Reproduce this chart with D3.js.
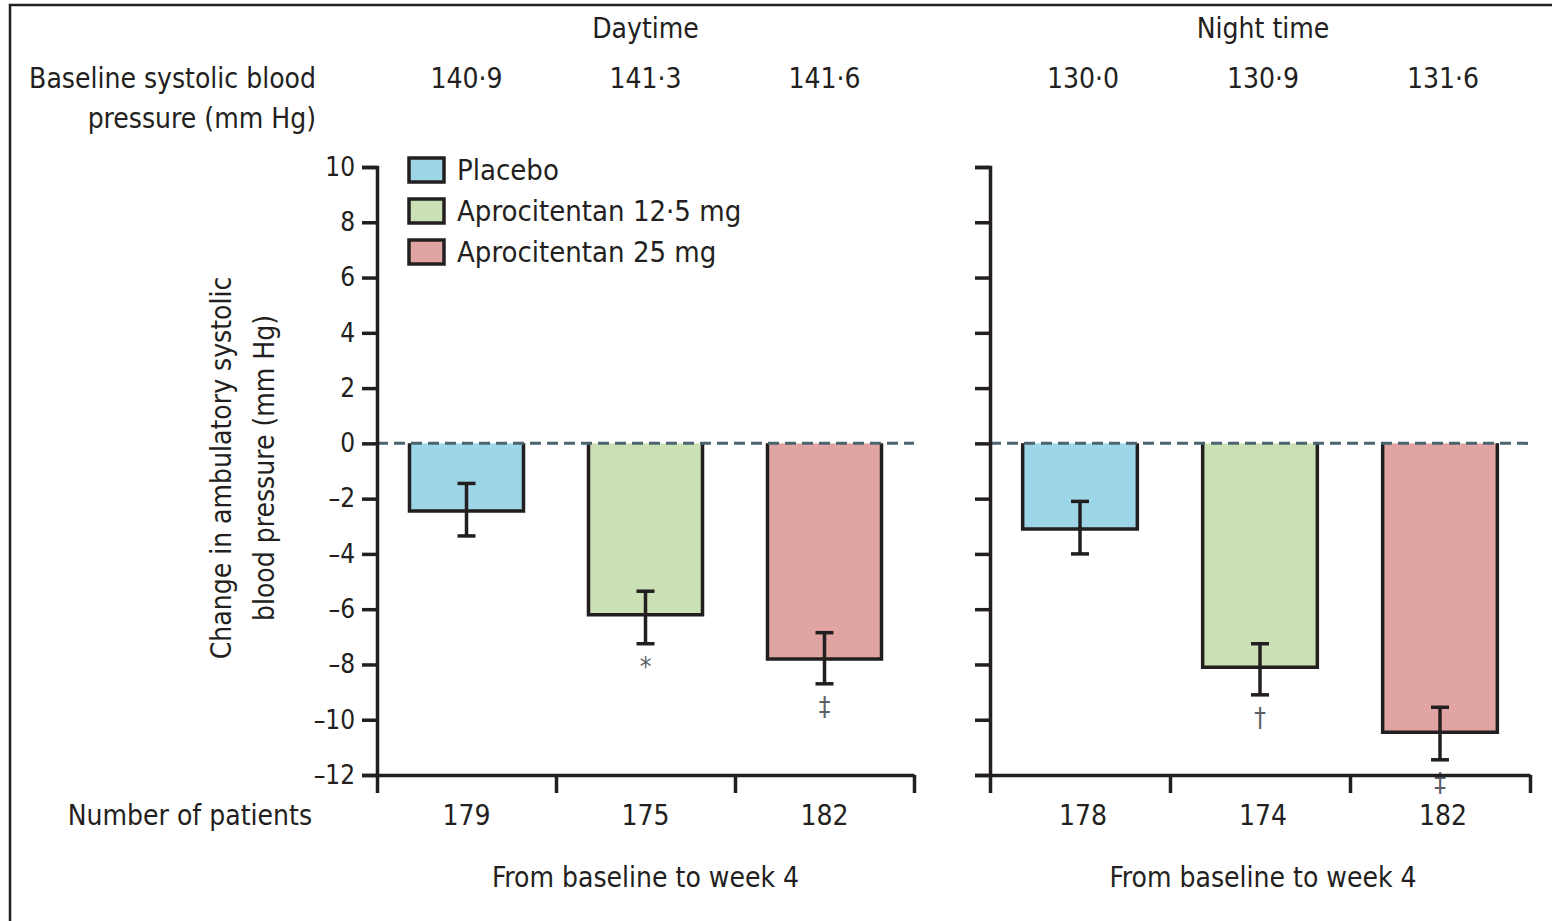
<!DOCTYPE html>
<html>
<head>
<meta charset="utf-8">
<script src="https://cdn.jsdelivr.net/npm/d3@7/dist/d3.min.js"></script>
<style>
  body { margin: 0; background: #fff; }
  svg text { font-family: "Liberation Sans Narrow", "Arial Narrow", "DejaVu Sans Condensed", sans-serif; fill: #231f20; }
</style>
</head>
<body>
<svg id="chart" width="1552" height="921"></svg>
<script>
// data
const groups = ['Placebo', 'Aprocitentan 12·5 mg', 'Aprocitentan 25 mg'];
const periods = ['Daytime', 'Night time'];
const baselineDay = ['140·9', '141·3', '141·6'];
const baselineNight = ['130·0', '130·9', '131·6'];
const changeDay = [-2.45, -6.2, -7.8];
const changeNight = [-3.1, -8.1, -10.45];
const errHighDay = [-1.45, -5.35, -6.85];
const errLowDay = [-3.35, -7.25, -8.7];
const errHighNight = [-2.1, -7.25, -9.55];
const errLowNight = [-4.0, -9.1, -11.45];
const patientsDay = [179, 175, 182];
const patientsNight = [178, 174, 182];
const markersDay = ['', '*', '‡'];
const markersNight = ['', '†', '‡'];
const yTicks = [10, 8, 6, 4, 2, 0, -2, -4, -6, -8, -10, -12];
const colors = ['#9dd6e7', '#cbe0b5', '#e0a5a2'];

const ink = '#231f20';
const svg = d3.select('#chart');

// outer frame
svg.append('path')
  .attr('d', 'M10,921 V5 H1552')
  .attr('fill', 'none')
  .attr('stroke', ink)
  .attr('stroke-width', 2.5);

const y = d3.scaleLinear().domain([-12, 10]).range([775, 167]);
const color = d3.scaleOrdinal().domain(groups).range(colors);
const fmt = d => d < 0 ? '\u2013' + Math.abs(d) : String(d);

const panels = [
  {name: periods[0], range: [377, 914], base: baselineDay, change: changeDay, hi: errHighDay, lo: errLowDay, n: patientsDay, marks: markersDay, labels: true, shift: 0},
  {name: periods[1], range: [990, 1530], base: baselineNight, change: changeNight, hi: errHighNight, lo: errLowNight, n: patientsNight, marks: markersNight, labels: false, shift: 3}
];

panels.forEach(p => {
  const x = d3.scaleBand().domain(groups).range(p.range).paddingInner(0.363).paddingOuter(0.1815);
  const xb = d3.scaleLinear().domain([0, 3]).range(p.range);
  const mid = (p.range[0] + p.range[1]) / 2;
  const g = svg.append('g');

  const rows = groups.map((k, i) => ({k: k, v: p.change[i], hi: p.hi[i], lo: p.lo[i], n: p.n[i], b: p.base[i], m: p.marks[i]}));

  // bars: fill, then three sides (top edge sits on the dashed zero line)
  g.selectAll('rect.bar')
    .data(rows)
    .enter()
    .append('rect')
    .attr('class', 'bar')
    .attr('x', d => x(d.k))
    .attr('y', y(0))
    .attr('width', x.bandwidth())
    .attr('height', d => y(d.v) - y(0))
    .attr('fill', d => color(d.k));

  g.selectAll('path.edge')
    .data(rows)
    .enter()
    .append('path')
    .attr('class', 'edge')
    .attr('d', d => `M${x(d.k)},${y(0)} V${y(d.v)} H${x(d.k) + x.bandwidth()} V${y(0)}`)
    .attr('fill', 'none')
    .attr('stroke', ink)
    .attr('stroke-width', 3.5);

  // error bars
  const eb = g.selectAll('g.err')
    .data(rows)
    .enter()
    .append('g')
    .attr('class', 'err')
    .attr('transform', d => `translate(${x(d.k) + x.bandwidth() / 2},0)`);
  eb.append('line').attr('y1', d => y(d.hi)).attr('y2', d => y(d.lo));
  eb.append('line').attr('x1', -9).attr('x2', 9).attr('y1', d => y(d.hi)).attr('y2', d => y(d.hi));
  eb.append('line').attr('x1', -9).attr('x2', 9).attr('y1', d => y(d.lo)).attr('y2', d => y(d.lo));
  eb.selectAll('line').attr('stroke', ink).attr('stroke-width', 3.5);

  // significance markers
  eb.append('text')
    .attr('y', d => y(d.lo) + 32)
    .attr('text-anchor', 'middle')
    .attr('font-size', 26)
    .style('fill', '#5a5f66')
    .text(d => d.m);

  // zero line
  g.append('line')
    .attr('x1', p.range[0]).attr('x2', p.range[1])
    .attr('y1', y(0)).attr('y2', y(0))
    .attr('stroke', '#4b6570')
    .attr('stroke-width', 3)
    .attr('stroke-dasharray', '11,6');

  // y axis
  const ya = g.append('g')
    .attr('transform', `translate(${p.range[0]},0)`)
    .call(d3.axisLeft(y).tickValues(yTicks).tickSize(15).tickSizeOuter(15)
      .tickFormat(p.labels ? fmt : ''));
  ya.selectAll('path, line').attr('stroke', ink).attr('stroke-width', 3.5);
  ya.selectAll('text').attr('font-size', 26).attr('dx', '-0.15em').style('font-family', null);

  // x axis with ticks between the bars
  const xa = g.append('g')
    .attr('transform', `translate(0,${y(-12)})`)
    .call(d3.axisBottom(xb).tickValues([0, 1, 2, 3]).tickSize(18).tickSizeOuter(0).tickFormat(''));
  xa.selectAll('path, line').attr('stroke', ink).attr('stroke-width', 3.5);

  // header and baseline values
  g.append('text')
    .attr('x', mid + p.shift).attr('y', 38)
    .attr('text-anchor', 'middle')
    .attr('font-size', 28)
    .text(p.name);

  g.selectAll('text.base')
    .data(rows)
    .enter()
    .append('text')
    .attr('class', 'base')
    .attr('x', d => x(d.k) + x.bandwidth() / 2 + p.shift)
    .attr('y', 88)
    .attr('text-anchor', 'middle')
    .attr('font-size', 28)
    .text(d => d.b);

  // patient counts
  g.selectAll('text.n')
    .data(rows)
    .enter()
    .append('text')
    .attr('class', 'n')
    .attr('x', d => x(d.k) + x.bandwidth() / 2 + p.shift)
    .attr('y', 825)
    .attr('text-anchor', 'middle')
    .attr('font-size', 28)
    .text(d => d.n);

  g.append('text')
    .attr('x', mid + p.shift).attr('y', 887)
    .attr('text-anchor', 'middle')
    .attr('font-size', 28)
    .text('From baseline to week 4');
});

// row labels
const rowLab = svg.append('g').attr('font-size', 28);
rowLab.append('text').attr('x', 316).attr('y', 88).attr('text-anchor', 'end').text('Baseline systolic blood');
rowLab.append('text').attr('x', 316).attr('y', 128).attr('text-anchor', 'end').text('pressure (mm Hg)');
rowLab.append('text').attr('x', 312).attr('y', 825).attr('text-anchor', 'end').text('Number of patients');

// y axis title
const yt = svg.append('g').attr('transform', 'translate(222,468) rotate(-90)').attr('font-size', 28);
yt.append('text').attr('text-anchor', 'middle').attr('y', 9).text('Change in ambulatory systolic');
yt.append('text').attr('text-anchor', 'middle').attr('y', 52).text('blood pressure (mm Hg)');

// legend
const legend = svg.append('g')
  .selectAll('g')
  .data(groups)
  .enter()
  .append('g')
  .attr('transform', (d, i) => `translate(409,${158 + i * 41})`);
legend.append('rect')
  .attr('width', 35).attr('height', 24)
  .attr('fill', d => color(d))
  .attr('stroke', ink)
  .attr('stroke-width', 3.5);
legend.append('text')
  .attr('x', 48).attr('y', 22)
  .attr('font-size', 29)
  .text(d => d);
</script>
</body>
</html>
